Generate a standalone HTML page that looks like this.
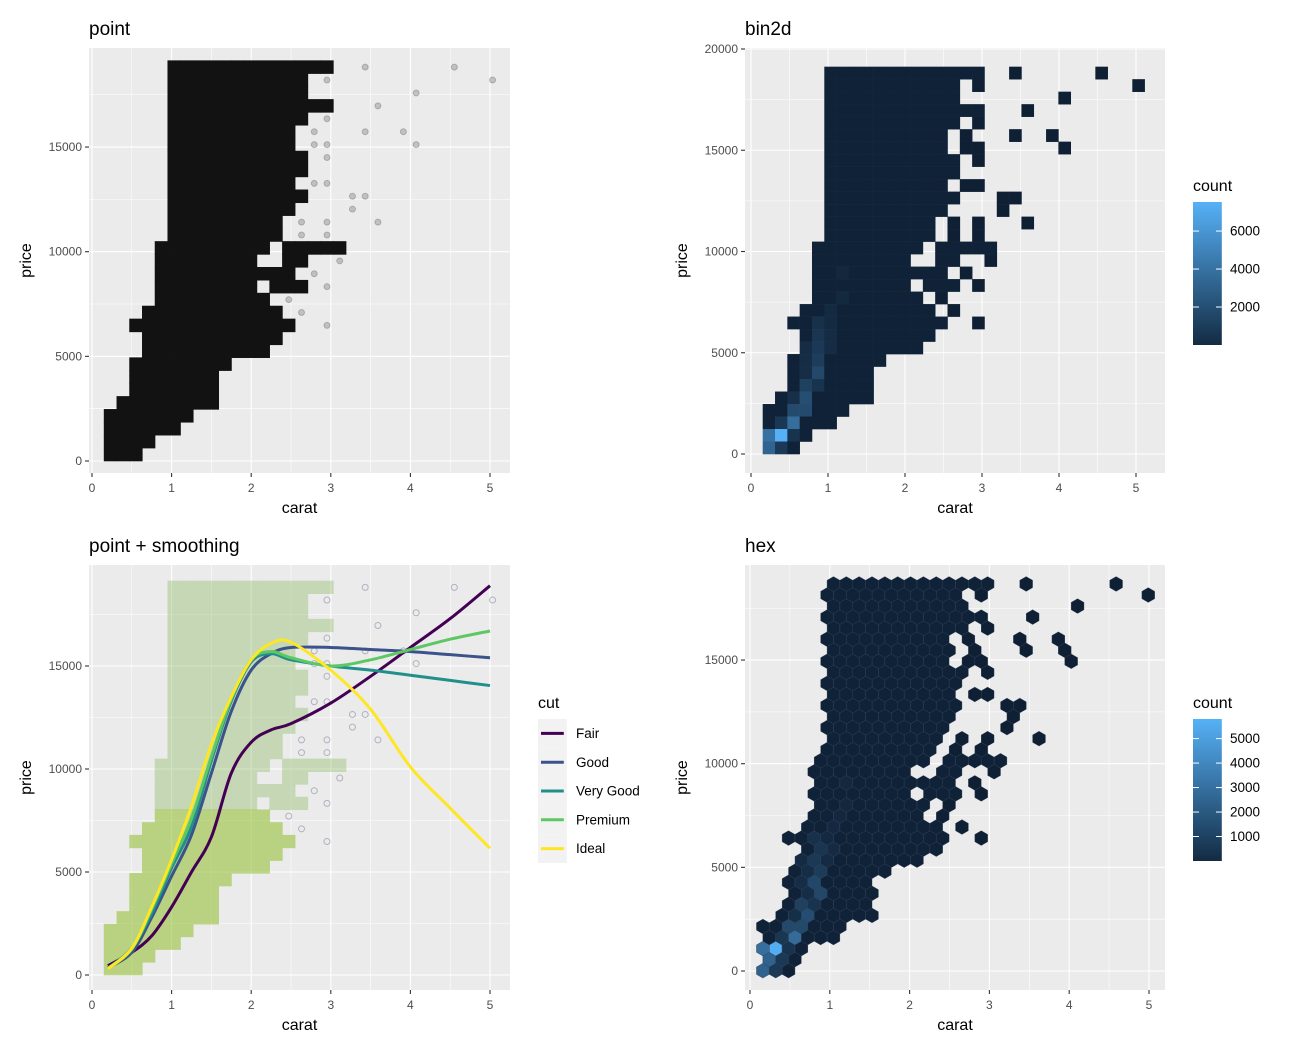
<!DOCTYPE html>
<html><head><meta charset="utf-8"><style>
html,body{margin:0;padding:0;background:#fff}
svg{display:block;font-family:"Liberation Sans",sans-serif}
</style></head><body>
<svg id="fig" width="1291" height="1052" viewBox="0 0 1291 1052" xmlns="http://www.w3.org/2000/svg"></svg>
<script>
// ---------------- DATA ----------------
const rowSegs = [
 [30,5,17],[29,5,15],[28,5,15],[27,5,17],[26,5,15],[25,5,14],[24,5,14],[23,5,15],[22,5,15],
 [21,5,14],[20,5,15],[19,5,14],[18,5,13],[17,5,13],[16,4,12],[16,14,18],[15,4,11],[15,14,15],
 [14,4,14],[13,4,11],[13,13,15],[12,4,12],[11,3,13],[10,2,14],[9,3,13],[8,3,12],[7,2,9],
 [6,2,8],[5,2,8],[4,1,8],[3,0,6],[2,0,5],[1,0,3],[0,0,2]
];
const sparseCells = [
 [20,30],[27,30],[17,29],[30,29],[24,28],[21,27],[17,26],[16,25],[20,25],[23,25],[16,24],[17,24],
 [24,24],[17,23],[16,21],[17,21],[19,20],[20,20],[19,19],[15,18],[17,18],[21,18],[15,17],[17,17],
 [18,15],[16,14],[17,13],[14,12],[15,11],[17,10]
];
const hotCells = [
 [0,0,3500],[0,1,4200],[1,1,7500],[1,0,1300],[1,2,1200],[2,2,4000],[2,1,1000],[2,3,2200],[3,3,2200],
 [3,4,2400],[2,4,800],[3,5,1700],[4,5,1000],[4,6,2100],[4,7,1500],[4,8,1300],[4,9,1100],[4,10,900],
 [3,6,700],[3,7,700],[3,8,600],[5,8,600],[5,9,600],[5,10,500],[5,11,500],[6,12,450],[6,14,400]
];
const smoothCarat = [0.2,0.5,0.75,1,1.25,1.5,1.75,2,2.25,2.5,3,3.5,4,4.5,5];
const fairPrice = [450,1100,1900,3300,5000,6700,9800,11300,11900,12200,13200,14500,15900,17300,18900];
const goodPrice = [350,1100,2800,4800,6800,9800,12800,14800,15600,15900,15900,15800,15700,15550,15400];
const veryGoodPrice = [330,1300,3000,5200,7200,10400,13300,15200,15600,15300,15000,14800,14550,14300,14050];
const premiumPrice = [320,1250,3200,5400,7600,10600,13400,15300,15700,15400,15000,15300,15800,16300,16700];
const idealPrice = [300,1300,3300,5600,8200,11200,13500,15300,16100,16150,14800,12900,10100,8100,6150];
const cutNames = ["Fair","Good","Very Good","Premium","Ideal"];
const cutColors = ["#440154","#3B528B","#21908C","#5DC863","#FDE725"];
const xTicks = [0,1,2,3,4,5];
const yTicksA = [0,5000,10000,15000];
const yTicksB = [0,5000,10000,15000,20000];
const binLegendTicks = [2000,4000,6000];
const hexLegendTicks = [1000,2000,3000,4000,5000];

// ---------------- helpers ----------------
const NS="http://www.w3.org/2000/svg";
const svg=document.getElementById('fig');
function el(tag,attrs,parent,text){const e=document.createElementNS(NS,tag);for(const k in attrs)e.setAttribute(k,attrs[k]);if(text!==undefined)e.textContent=text;(parent||svg).appendChild(e);return e;}

const cellMap={};
rowSegs.forEach(s=>{for(let i=s[1];i<=s[2];i++)cellMap[i+','+s[0]]=100;});
sparseCells.forEach(s=>{cellMap[s[0]+','+s[1]]=2;});
hotCells.forEach(s=>{cellMap[s[0]+','+s[1]]=s[2];});
const cells=Object.keys(cellMap).map(k=>{const [i,j]=k.split(',').map(Number);return {i,j,n:cellMap[k]};});
const cw=0.16, cx0=0.152, ch=617;

function lerpColor(a,b,t){t=Math.max(0,Math.min(1,t));const pa=[1,3,5].map(o=>parseInt(a.substr(o,2),16)),pb=[1,3,5].map(o=>parseInt(b.substr(o,2),16));return 'rgb('+pa.map((v,k)=>Math.round(v+(pb[k]-v)*t)).join(',')+')';}
const LOW="#132B43",HIGH="#56B1F7",TILELOW="#0f2034";

function makePanel(p,name){
  const g=el('g',{},svg);
  
  
  p.sx=c=>p.x0+c*p.kx; p.sy=v=>p.y0-v*p.ky;
  const bg=el('rect',{x:p.l,y:p.t,width:p.r-p.l,height:p.b-p.t,fill:'#EBEBEB'},g);
  
  
  const step=p.yt[1]-p.yt[0];
  for(let v=p.yt[0]-step/2;v<=p.yt[p.yt.length-1]+step;v+=step){const y=p.sy(v);if(y>p.t&&y<p.b)el('line',{x1:p.l,x2:p.r,y1:y,y2:y,stroke:'#fff','stroke-width':0.55},g);}
  for(let c=-0.5;c<=6;c+=1){const x=p.sx(c);if(x>p.l&&x<p.r)el('line',{x1:x,x2:x,y1:p.t,y2:p.b,stroke:'#fff','stroke-width':0.55},g);}
  p.yt.forEach(v=>{const y=p.sy(v);el('line',{x1:p.l,x2:p.r,y1:y,y2:y,stroke:'#fff','stroke-width':1.1},g);
    el('line',{x1:p.l-4,x2:p.l,y1:y,y2:y,stroke:'#333','stroke-width':1.1},g);
    const t=el('text',{x:p.l-7,y:y+4,'text-anchor':'end','font-size':12,fill:'#4D4D4D'},g,String(v));
    });
  xTicks.forEach(c=>{const x=p.sx(c);el('line',{x1:x,x2:x,y1:p.t,y2:p.b,stroke:'#fff','stroke-width':1.1},g);
    el('line',{x1:x,x2:x,y1:p.b,y2:p.b+4,stroke:'#333','stroke-width':1.1},g);
    const t=el('text',{x:x,y:p.b+19,'text-anchor':'middle','font-size':12,fill:'#4D4D4D'},g,String(c));
    });
  const tt=el('text',{x:p.l,y:p.t-13,'font-size':19,fill:'#000'},g,p.title);
  
  const xt=el('text',{x:(p.l+p.r)/2,y:p.b+40,'text-anchor':'middle','font-size':16,fill:'#000'},g,'carat');
  
  const yx=p.l-58, yy=(p.t+p.b)/2;
  const yt=el('text',{x:yx,y:yy,'text-anchor':'middle','font-size':16,fill:'#000',transform:'rotate(-90 '+yx+' '+yy+')'},g,'price');
  
  const clip=el('clipPath',{id:'clip-'+name},g);el('rect',{x:p.l,y:p.t,width:p.r-p.l,height:p.b-p.t},clip);
  const data=el('g',{'clip-path':'url(#clip-'+name+')'},g);
  
  return data;
}

// ---------------- Panel 1: point ----------------
const P1={l:89,r:510,t:48,b:473,x0:92,kx:79.6,y0:461,ky:0.02093,yt:yTicksA,title:'point'};
const g1=makePanel(P1,'point');
const g1d=el('g',{opacity:0.92},g1);
cells.forEach(c=>{
  const x=P1.sx(cx0+c.i*cw), w=cw*P1.kx, y=P1.sy((c.j+1)*ch), h=ch*P1.ky;
  if(c.n>=50){const r=el('rect',{x:x-0.3,y:y-0.3,width:w+0.6,height:h+0.6,fill:'#000'},g1d);
    }
  else{const ci=el('circle',{cx:x+w/2,cy:y+h/2,r:3,fill:'#000','fill-opacity':0.18,stroke:'#000','stroke-opacity':0.2},g1);
    }
});

// ---------------- Panel 2: bin2d ----------------
const P2={l:745,r:1165,t:48,b:473,x0:751,kx:77,y0:454,ky:0.02025,yt:yTicksB,title:'bin2d'};
const g2=makePanel(P2,'bin2d');
const binMax=7530;
cells.forEach(c=>{
  const x=P2.sx(cx0+c.i*cw), y=P2.sy((c.j+1)*ch);
  const r=el('rect',{x:x,y:y,width:cw*P2.kx+0.3,height:ch*P2.ky+0.3,fill:lerpColor(TILELOW,HIGH,c.n/binMax)},g2);
  
});

// ---------------- Panel 3: point + smoothing ----------------
const P3={l:89,r:510,t:565,b:990,x0:92,kx:79.6,y0:975,ky:0.0206,yt:yTicksA,title:'point + smoothing'};
const g3=makePanel(P3,'smooth');
const g3lo=el('g',{opacity:0.6},g3), g3hi=el('g',{opacity:0.35},g3);
cells.forEach(c=>{
  const x=P3.sx(cx0+c.i*cw), w=cw*P3.kx, y=P3.sy((c.j+1)*ch), h=ch*P3.ky;
  if(c.n>=50){const r=el('rect',{x:x-0.3,y:y-0.3,width:w+0.6,height:h+0.6,fill:c.j<=12?'#98c23c':'#7fb34f'},c.j<=12?g3lo:g3hi);
    }
  else{const ci=el('circle',{cx:x+w/2,cy:y+h/2,r:3,fill:'none',stroke:'#6a6a8a','stroke-opacity':0.45},g3);
    }
});
[fairPrice,goodPrice,veryGoodPrice,premiumPrice,idealPrice].forEach((arr,k)=>{
  const pts=smoothCarat.map((c,i)=>[P3.sx(c),P3.sy(arr[i])]);
  let d='M'+pts[0][0]+','+pts[0][1];
  for(let i=0;i<pts.length-1;i++){const p0=pts[Math.max(0,i-1)],p1=pts[i],p2=pts[i+1],p3=pts[Math.min(pts.length-1,i+2)];
    d+=' C'+(p1[0]+(p2[0]-p0[0])/6)+','+(p1[1]+(p2[1]-p0[1])/6)+' '+(p2[0]-(p3[0]-p1[0])/6)+','+(p2[1]-(p3[1]-p1[1])/6)+' '+p2[0]+','+p2[1];}
  const l=el('path',{d:d,fill:'none',stroke:cutColors[k],'stroke-width':3},g3);
  
  
});
const lg=el('g',{},svg);

el('text',{x:538,y:708,'font-size':16,fill:'#000'},lg,'cut');
cutNames.forEach((n,k)=>{
  const y=719+k*28.8;
  el('rect',{x:538,y:y,width:28.8,height:28.8,fill:'#F2F2F2'},lg);
  const ln=el('line',{x1:541,x2:563.8,y1:y+14.4,y2:y+14.4,stroke:cutColors[k],'stroke-width':3},lg);
  
  const t=el('text',{x:576,y:y+19,'font-size':13.5,fill:'#000'},lg,n);
  
});

// ---------------- Panel 4: hex ----------------
const P4={l:745,r:1165,t:565,b:990,x0:750,kx:79.8,y0:971,ky:0.02073,yt:yTicksA,title:'hex'};
const g4=makePanel(P4,'hex');
const hexMax=5800, R=7.37;
for(let r=0;r<=35;r++){
  const p=15+r*533;
  for(let k=0;k<34;k++){
    const c=(r%2===0?0.161:0.080)+k*0.161;
    const i=Math.floor((c-cx0)/cw), j=Math.floor(p/ch);
    const n=cellMap[i+','+j]; if(n===undefined)continue;
    const X=P4.sx(c),Y=P4.sy(p);let pts=[];
    for(let a=0;a<6;a++){const ang=Math.PI/6+a*Math.PI/3;pts.push((X+R*Math.cos(ang)).toFixed(2)+','+(Y+R*Math.sin(ang)).toFixed(2));}
    const h=el('polygon',{points:pts.join(' '),fill:lerpColor(TILELOW,HIGH,n*0.75/hexMax),stroke:'#2c3e55','stroke-width':0.4},g4);
    
  }
}

// ---------------- colorbars ----------------
function colorbar(name,top,bot,max,ticks,gid){
  const g=el('g',{},svg);
  
  el('text',{x:1193,y:top-11,'font-size':16,fill:'#000'},g,'count');
  const defs=el('defs',{},g);const lgd=el('linearGradient',{id:gid,x1:0,y1:1,x2:0,y2:0},defs);
  el('stop',{offset:'0','stop-color':LOW},lgd);el('stop',{offset:'1','stop-color':HIGH},lgd);
  el('rect',{x:1193,y:top,width:28.8,height:bot-top,fill:'url(#'+gid+')'},g);
  const k=(bot-top)/max;
  ticks.forEach(v=>{const y=bot-v*k;
    el('line',{x1:1193,x2:1199,y1:y,y2:y,stroke:'#fff','stroke-width':1},g);
    el('line',{x1:1216,x2:1222,y1:y,y2:y,stroke:'#fff','stroke-width':1},g);
    el('text',{x:1230,y:y+4.5,'font-size':13.5,fill:'#000'},g,String(v));});
}
colorbar('bin2d-count-legend',202,345,7530,binLegendTicks,'gb');
colorbar('hex-count-legend',719,861,5800,hexLegendTicks,'gh');
</script>
</body></html>
